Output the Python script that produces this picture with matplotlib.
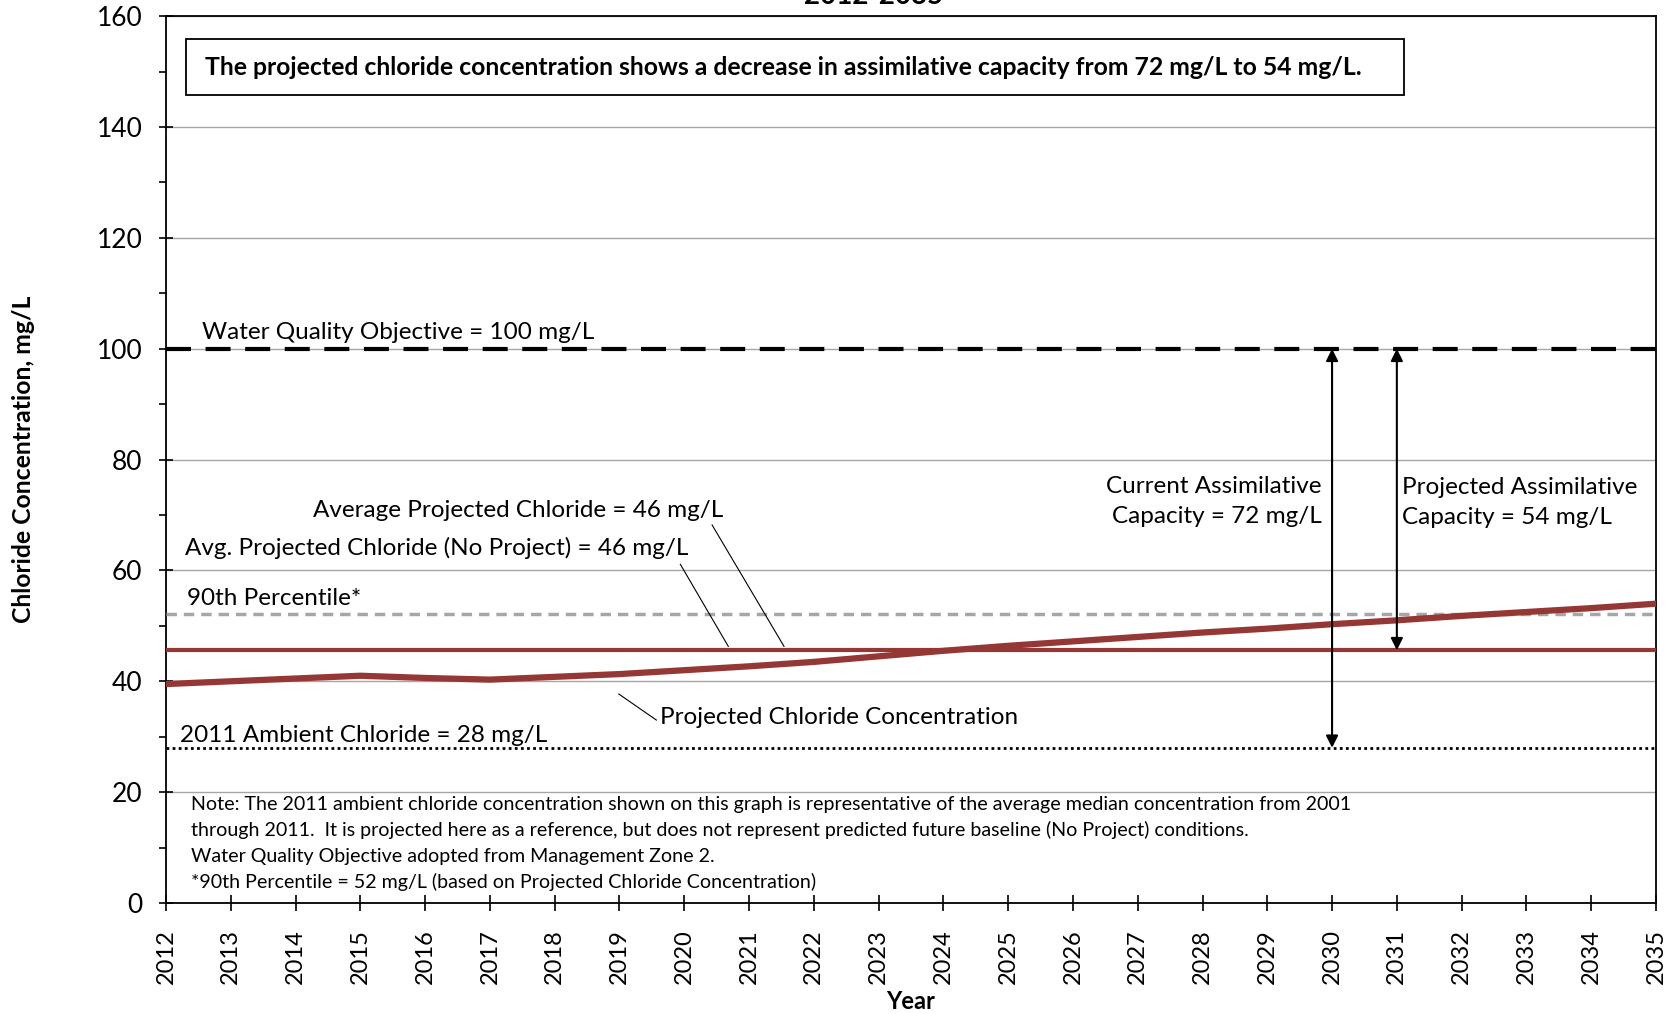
import matplotlib
matplotlib.use("Agg")
import matplotlib.pyplot as plt
from matplotlib.patches import Rectangle
from matplotlib.ticker import MultipleLocator

plt.rcParams["font.family"] = ["Lato", "DejaVu Sans"]

# =============================
# Dados
# =============================
anos = list(range(2012, 2036))
cloreto_projetado = [39.5, 40.0, 40.5, 41.0, 40.6, 40.3, 40.8, 41.3, 42.0, 42.7, 43.5, 44.5,
                     45.5, 46.4, 47.2, 48.0, 48.8, 49.5, 50.3, 51.0, 51.8, 52.5, 53.2, 54.0]
media_projetada = 45.6
percentil_90 = 52.2
objetivo_qualidade = 100
ambiente_2011 = 28
ano_atual = 2030
ano_projetado = 2031

vermelho = "#953735"

fig = plt.figure(figsize=(16.8, 10.14), dpi=100)
ax = fig.add_axes([0.0988, 0.1095, 0.8869, 0.8745])

ax.set_xlim(2012, 2035)
ax.set_ylim(0, 160)
ax.yaxis.set_major_locator(MultipleLocator(20))
ax.yaxis.set_minor_locator(MultipleLocator(10))
ax.set_xticks(anos)
ax.set_xticklabels([str(a) for a in anos], rotation=90, fontsize=17)
ax.tick_params(axis="y", labelsize=19, direction="inout", length=10, width=1.2, pad=12)
ax.tick_params(axis="y", which="minor", direction="out", length=5, width=1.2)
ax.tick_params(axis="x", direction="inout", length=12, width=1.2, pad=13)
ax.grid(axis="y", color="#A6A6A6", linewidth=1)
ax.set_axisbelow(True)
for s in ax.spines.values():
    s.set_linewidth(1.3)

# linhas de referencia
ax.axhline(objetivo_qualidade, color="black", linewidth=3, dashes=(6, 3.5), zorder=3)
ax.axhline(percentil_90, color="#A6A6A6", linewidth=2.5, dashes=(3, 2), zorder=3)
ax.axhline(ambiente_2011, color="black", linewidth=2, linestyle=(0, (1, 1.2)), zorder=3)
ax.axhline(media_projetada, color=vermelho, linewidth=3, zorder=4)
ax.plot(anos, cloreto_projetado, color=vermelho, linewidth=4.5, zorder=5, solid_capstyle="round")

# setas de capacidade
seta = dict(arrowstyle="<|-|>", color="black", linewidth=1.5, mutation_scale=18, shrinkA=0, shrinkB=0)
ax.annotate("", xy=(ano_atual, objetivo_qualidade), xytext=(ano_atual, ambiente_2011), arrowprops=seta, zorder=6)
ax.annotate("", xy=(ano_projetado, objetivo_qualidade), xytext=(ano_projetado, media_projetada), arrowprops=seta, zorder=6)

# textos
fs = 17.5
ax.text(2012.56, 103.0, "Water Quality Objective = 100 mg/L", fontsize=fs, va="center")
ax.text(2012.33, 54.9, "90th Percentile*", fontsize=fs, va="center")
ax.text(2012.21, 30.3, "2011 Ambient Chloride = 28 mg/L", fontsize=fs, va="center")
ax.text(2014.27, 70.9, "Average Projected Chloride = 46 mg/L", fontsize=fs, va="center")
ax.text(2012.30, 64.0, "Avg. Projected Chloride (No Project) = 46 mg/L", fontsize=fs, va="center")
ax.text(2019.62, 33.4, "Projected Chloride Concentration", fontsize=fs, va="center")
ax.text(2029.84, 72.5, "Current Assimilative\nCapacity = 72 mg/L", fontsize=fs, va="center", ha="right",
        multialignment="right", linespacing=1.52)
ax.text(2031.08, 72.3, "Projected Assimilative\nCapacity = 54 mg/L", fontsize=fs, va="center", ha="left",
        linespacing=1.52)

# linhas guia
ax.plot([2020.43, 2021.54], [68.2, 46.3], color="black", linewidth=0.8, zorder=6)
ax.plot([2019.94, 2020.68], [61.1, 46.3], color="black", linewidth=0.8, zorder=6)
ax.plot([2018.99, 2019.57], [37.7, 33.0], color="black", linewidth=0.8, zorder=6)

# nota
notas = ["Note: The 2011 ambient chloride concentration shown on this graph is representative of the average median concentration from 2001",
         "through 2011.  It is projected here as a reference, but does not represent predicted future baseline (No Project) conditions.",
         "Water Quality Objective adopted from Management Zone 2.",
         "*90th Percentile = 52 mg/L (based on Projected Chloride Concentration)"]
for i, n in enumerate(notas):
    ax.text(2012.38, 17.8 - i * 4.7, n, fontsize=14.1, va="center")

# caixa de destaque
ax.add_patch(Rectangle((0.0137, 0.9106), 0.8173, 0.064, transform=ax.transAxes,
                       facecolor="white", edgecolor="black", linewidth=1.3, zorder=6))
ax.text(2012.6, 150.8,
        "The projected chloride concentration shows a decrease in assimilative capacity from 72 mg/L to 54 mg/L.",
        fontsize=17.8, fontweight="bold", va="center", zorder=7)

ax.set_ylabel("Chloride Concentration, mg/L", fontsize=17.8, fontweight="bold", labelpad=44)
ax.set_xlabel("Year", fontsize=17, fontweight="bold", labelpad=4)
fig.text(0.52, 0.996, "2012-2035", fontsize=20, fontweight="bold", ha="center", va="baseline")

fig.savefig("out.png", dpi=100)
